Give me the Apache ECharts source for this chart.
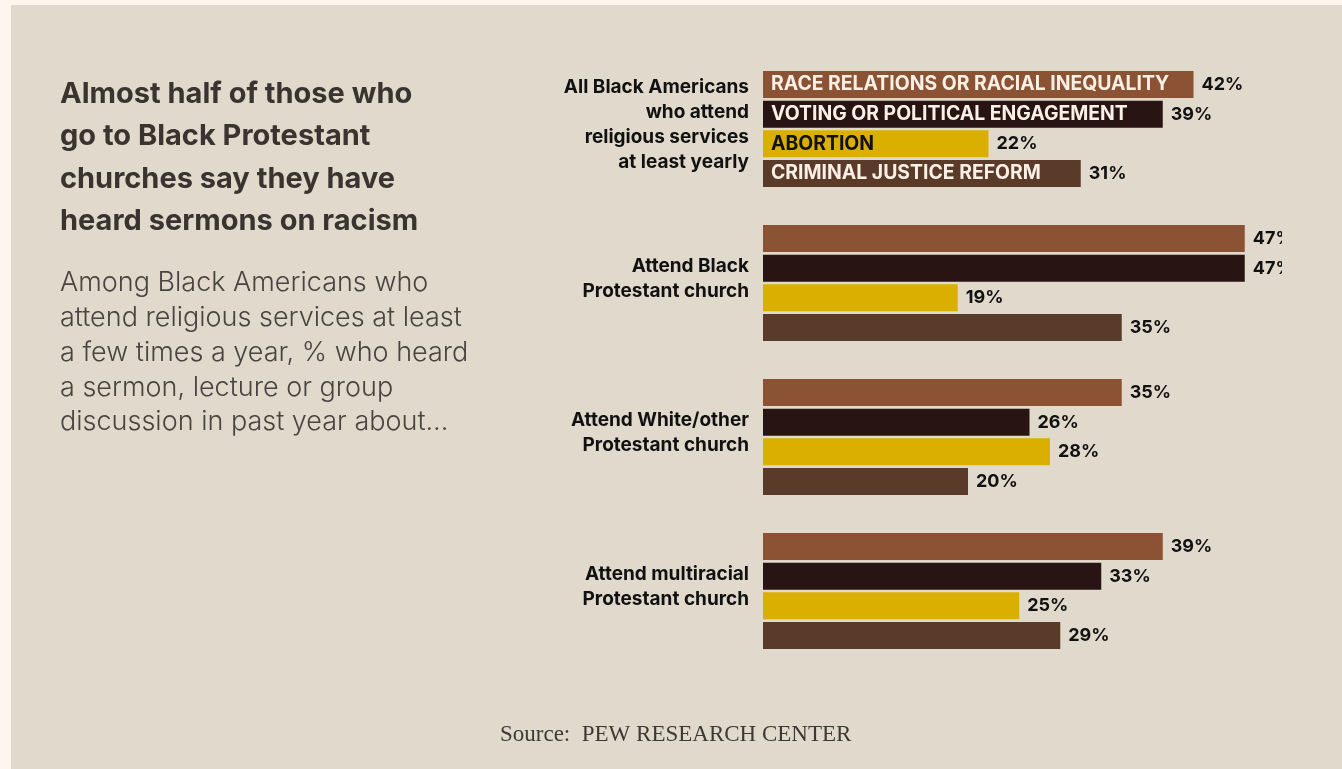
<!DOCTYPE html>
<html>
<head>
<meta charset="utf-8">
<script src="https://cdn.jsdelivr.net/npm/echarts@6/dist/echarts.min.js"></script>
<style>
  html, body { margin: 0; padding: 0; width: 1342px; height: 769px; overflow: hidden; background: #fef6ee; }
  #panel { position: absolute; left: 11px; top: 5px; right: 0; bottom: 0; background: #e1d9cb; }
  #chart { position: absolute; left: 0; top: 0; width: 1282px; height: 769px; }
</style>
</head>
<body>
<div id="panel"></div>
<div id="chart"></div>
<script>
// Groups of respondents (y categories)
const categories = [
  'All Black Americans\nwho attend\nreligious services\nat least yearly',
  'Attend Black\nProtestant church',
  'Attend White/other\nProtestant church',
  'Attend multiracial\nProtestant church'
];
// Sermon topics (one series each)
const topics = [
  'RACE RELATIONS OR RACIAL INEQUALITY',
  'VOTING OR POLITICAL ENGAGEMENT',
  'ABORTION',
  'CRIMINAL JUSTICE REFORM'
];
// % who heard a sermon, lecture or group discussion on each topic
const raceRelations   = [42, 47, 35, 39];
const voting          = [39, 47, 26, 33];
const abortion        = [22, 19, 28, 25];
const criminalJustice = [31, 35, 20, 29];

const topicValues = [raceRelations, voting, abortion, criminalJustice];
const topicColors = ['#8b5234', '#281412', '#dbaf00', '#5a3a28'];
const nameColors  = ['#fbf0e6', '#fbf0e6', '#111111', '#fbf0e6'];

const FONT = 'Inter, "Noto Sans", sans-serif';

const chart = echarts.init(document.getElementById('chart'), null, { renderer: 'canvas' });

const barCommon = { barWidth: 27, barGap: '10%', barCategoryGap: '25%' };

// Value bars with % labels
const valueSeries = topics.map((t, i) => Object.assign({
  type: 'bar',
  name: t,
  yAxisIndex: 0,
  data: topicValues[i],
  itemStyle: { color: topicColors[i] },
  label: {
    show: true,
    position: 'right',
    distance: 8,
    formatter: '{c}%',
    color: '#111',
    fontFamily: FONT,
    fontWeight: 'bold',
    fontSize: 18
  }
}, barCommon));

// Topic names written inside the bars of the first group
const nameSeries = topics.map((t, i) => Object.assign({
  type: 'bar',
  name: t + ' (name)',
  yAxisIndex: 1,
  data: topicValues[i].map((v, j) => (j === 0 ? v : '-')),
  itemStyle: { color: 'rgba(0,0,0,0)' },
  silent: true,
  label: {
    show: true,
    position: 'insideLeft',
    distance: 8,
    formatter: t,
    color: nameColors[i],
    fontFamily: FONT,
    fontWeight: 'bold',
    fontSize: 19.4
  }
}, barCommon));

chart.setOption({
  animation: false,
  backgroundColor: 'transparent',
  title: [
    {
      text: 'Almost half of those who\ngo to Black Protestant\nchurches say they have\nheard sermons on racism',
      left: 60, top: 73, padding: 0,
      textStyle: { fontFamily: FONT, fontWeight: 'bold', fontSize: 29, lineHeight: 42.5, color: '#3a3330' }
    },
    {
      text: 'Among Black Americans who\nattend religious services at least\na few times a year, % who heard\na sermon, lecture or group\ndiscussion in past year about...',
      left: 60, top: 266, padding: 0,
      textStyle: { fontFamily: FONT, fontWeight: 300, fontSize: 27, lineHeight: 34.7, color: '#4a4441' }
    },
    {
      text: 'Source:  PEW RESEARCH CENTER',
      left: 500, top: 723, padding: 0,
      textStyle: { fontFamily: '"Liberation Serif", serif', fontWeight: 'normal', fontSize: 23, lineHeight: 24, color: '#3d3935' }
    }
  ],
  grid: { left: 763, top: 52, width: 512.5, height: 616, containLabel: false, outerBoundsMode: 'none' },
  xAxis: {
    type: 'value', min: 0, max: 50,
    show: false
  },
  yAxis: [
    {
      type: 'category', data: categories, inverse: true,
      axisLine: { show: false }, axisTick: { show: false }, splitLine: { show: false },
      axisLabel: {
        margin: 14, align: 'right',
        // a short empty line below lifts the text block slightly above the group centre
        formatter: (v) => v.split('\n').map((l) => '{a|' + l + '}').join('\n') + '\n{s| }',
        rich: {
          a: { fontFamily: FONT, fontWeight: 'bold', fontSize: 19, lineHeight: 25, color: '#111', align: 'right' },
          s: { fontSize: 1, lineHeight: 8 }
        }
      }
    },
    {
      type: 'category', data: categories, inverse: true, show: false
    }
  ],
  series: valueSeries.concat(nameSeries)
});
</script>
</body>
</html>
